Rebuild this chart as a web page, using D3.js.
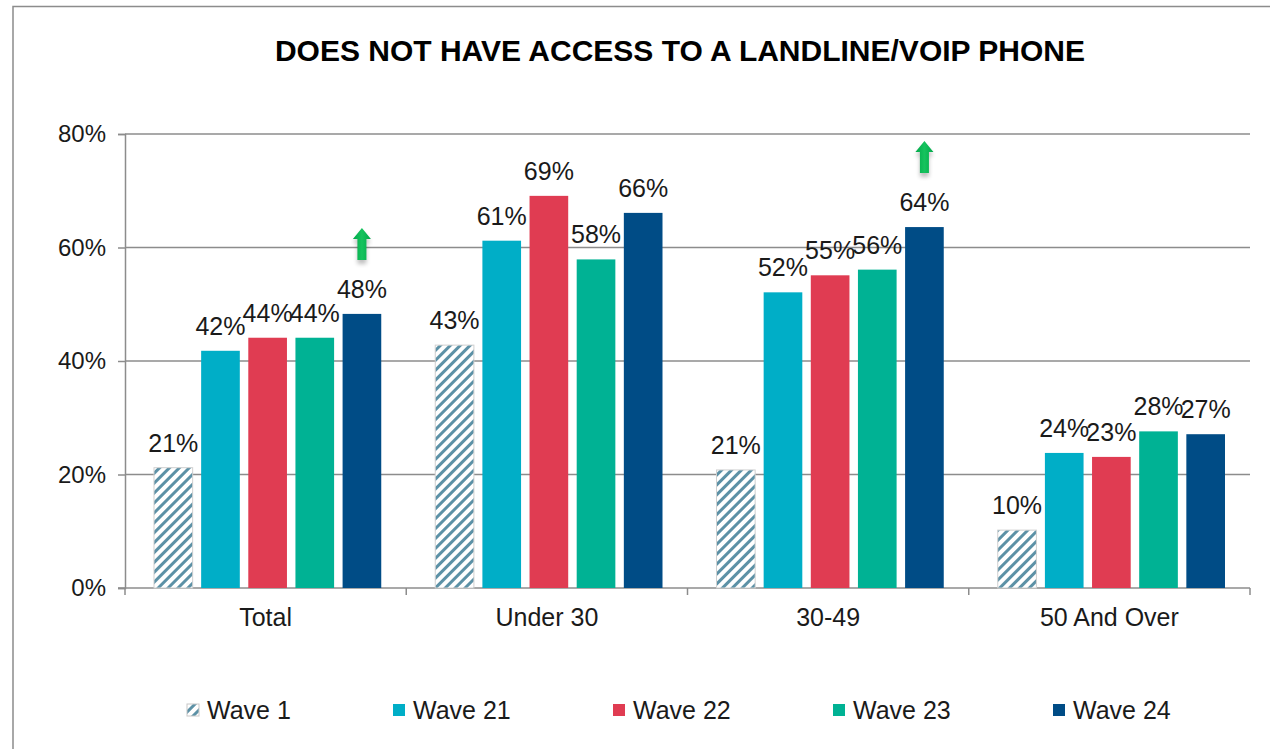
<html>
<head>
<style>
  body { margin: 0; background: #fff; }
  text { font-family: "Liberation Sans", Arial, sans-serif; fill: #1a1a1a; }
</style>
</head>
<body>
<svg width="1270" height="749"></svg>
<script src="https://d3js.org/d3.v7.min.js"></script>
<script>
var categories = ["Total", "Under 30", "30-49", "50 And Over"]
var waves = ["Wave 1", "Wave 21", "Wave 22", "Wave 23", "Wave 24"]
var wave1  = [21.2, 42.8, 20.8, 10.2]
var wave21 = [41.8, 61.2, 52.1, 23.8]
var wave22 = [44.1, 69.1, 55.1, 23.1]
var wave23 = [44.1, 57.9, 56.1, 27.6]
var wave24 = [48.3, 66.1, 63.6, 27.1]
var yTicks = [0, 20, 40, 60, 80]
// significant increase arrows: [category, wave]
var arrows = [["Total", "Wave 24"], ["30-49", "Wave 24"]]

var colors = ["url(#hatch)", "#00aec7", "#e03c52", "#00b294", "#004c86"]
var series = [wave1, wave21, wave22, wave23, wave24]

var svg = d3.select("svg")
var margin = {left: 125, right: 20, top: 134, bottom: 161}
var width = 1270 - margin.left - margin.right,
    height = 749 - margin.top - margin.bottom

// hatch pattern for Wave 1
var defs = svg.append("defs")
var pat = defs.append("pattern")
  .attr("id", "hatch")
  .attr("patternUnits", "userSpaceOnUse")
  .attr("width", 7).attr("height", 7)
  .attr("patternTransform", "rotate(45)")
pat.append("rect").attr("width", 7).attr("height", 7).attr("fill", "#fff")
pat.append("rect").attr("width", 3).attr("height", 7).attr("fill", "#5c91a6")

var grad = defs.append("linearGradient").attr("id", "arrowGrad")
  .attr("x1", 0).attr("x2", 1).attr("y1", 0).attr("y2", 0)
grad.append("stop").attr("offset", "0%").attr("stop-color", "#00a94a")
grad.append("stop").attr("offset", "50%").attr("stop-color", "#16c35e")
grad.append("stop").attr("offset", "100%").attr("stop-color", "#00a94a")
var blur = defs.append("filter").attr("id", "shadow")
blur.append("feGaussianBlur").attr("stdDeviation", 2)

// outer border
svg.append("rect")
  .attr("x", 13).attr("y", 6.5)
  .attr("width", 1300).attr("height", 800)
  .attr("fill", "none").attr("stroke", "#8c8c8c").attr("stroke-width", 1.5)

svg.append("text")
  .attr("x", 680).attr("y", 61)
  .attr("text-anchor", "middle")
  .style("font-size", "30px").style("font-weight", "bold")
  .style("fill", "#000")
  .text("DOES NOT HAVE ACCESS TO A LANDLINE/VOIP PHONE")

var g = svg.append("g").attr("transform", "translate(" + margin.left + "," + margin.top + ")")

var x0 = d3.scaleBand().domain(categories).range([0, width]).paddingInner(0).paddingOuter(0)
var x1 = d3.scaleBand().domain(waves).range([29, x0.bandwidth() - 25]).paddingInner(0.18).paddingOuter(0)
var y = d3.scaleLinear().domain([0, 80]).range([height, 0])

// gridlines
g.selectAll(".grid").data(yTicks.slice(1)).enter().append("line")
  .attr("x1", 0).attr("x2", width)
  .attr("y1", function(d) { return y(d) }).attr("y2", function(d) { return y(d) })
  .attr("stroke", "#8c8c8c").attr("stroke-width", 1.5)

// y axis
var yAxis = g.append("g")
  .call(d3.axisLeft(y).tickValues(yTicks).tickSize(7).tickPadding(12).tickFormat(function(d) { return d + "%" }))
yAxis.select(".domain").attr("stroke", "#8c8c8c").attr("stroke-width", 1.5)
yAxis.selectAll(".tick line").attr("stroke", "#8c8c8c").attr("stroke-width", 1.5)
yAxis.selectAll("text").style("font-size", "24px").style("font-family", "Liberation Sans, Arial, sans-serif").attr("fill", "#1a1a1a")

// x axis with boundary ticks
var xAxis = g.append("g").attr("transform", "translate(0," + height + ")")
xAxis.append("line").attr("x1", -7).attr("x2", width)
  .attr("stroke", "#8c8c8c").attr("stroke-width", 1.5)
var bounds = categories.map(function(c) { return x0(c) }).concat([width])
xAxis.selectAll(".bt").data(bounds).enter().append("line")
  .attr("x1", function(d) { return d }).attr("x2", function(d) { return d })
  .attr("y1", 0).attr("y2", 7)
  .attr("stroke", "#8c8c8c").attr("stroke-width", 1.5)
xAxis.selectAll(".cl").data(categories).enter().append("text")
  .attr("x", function(d) { return x0(d) + x0.bandwidth() / 2 })
  .attr("y", 38)
  .attr("text-anchor", "middle")
  .style("font-size", "25px")
  .text(function(d) { return d })

// bars
var rows = []
categories.forEach(function(c, ci) {
  waves.forEach(function(w, wi) {
    rows.push({cat: c, wave: w, wi: wi, value: series[wi][ci]})
  })
})

g.selectAll(".bar").data(rows).enter().append("rect")
  .attr("x", function(d) { return x0(d.cat) + x1(d.wave) })
  .attr("y", function(d) { return y(d.value) })
  .attr("width", x1.bandwidth())
  .attr("height", function(d) { return height - y(d.value) })
  .attr("fill", function(d) { return colors[d.wi] })
  .attr("stroke", function(d) { return d.wi === 0 ? "#d0d0d0" : "none" })
  .attr("stroke-width", 1)

g.selectAll(".lbl").data(rows).enter().append("text")
  .attr("x", function(d) { return x0(d.cat) + x1(d.wave) + x1.bandwidth() / 2 })
  .attr("y", function(d) { return y(d.value) - 16 })
  .attr("text-anchor", "middle")
  .style("font-size", "25px")
  .text(function(d) { return Math.round(d.value) + "%" })

// arrows
arrows.forEach(function(a) {
  var ci = categories.indexOf(a[0]), wi = waves.indexOf(a[1])
  var cx = x0(a[0]) + x1(a[1]) + x1.bandwidth() / 2
  var top = y(series[wi][ci]) - 86
  var path = "M" + cx + "," + top +
    " L" + (cx + 9) + "," + (top + 11) +
    " L" + (cx + 4.5) + "," + (top + 11) +
    " L" + (cx + 4.5) + "," + (top + 32) +
    " L" + (cx - 4.5) + "," + (top + 32) +
    " L" + (cx - 4.5) + "," + (top + 11) +
    " L" + (cx - 9) + "," + (top + 11) + " Z"
  g.append("path").attr("d", path).attr("fill", "#000").attr("opacity", 0.25)
    .attr("transform", "translate(0,4)").attr("filter", "url(#shadow)")
  g.append("path").attr("d", path).attr("fill", "url(#arrowGrad)")
})

// legend
var legX = [187, 393, 613, 833, 1053]
var leg = svg.selectAll(".leg").data(waves).enter().append("g")
  .attr("transform", function(d, i) { return "translate(" + legX[i] + ",710)" })
leg.append("rect")
  .attr("x", 0).attr("y", -6).attr("width", 12).attr("height", 12)
  .attr("fill", function(d, i) { return colors[i] })
  .attr("stroke", function(d, i) { return i === 0 ? "#c8c8c8" : "none" })
leg.append("text")
  .attr("x", 20).attr("y", 9)
  .style("font-size", "25px")
  .text(function(d) { return d })
</script>
</body>
</html>
